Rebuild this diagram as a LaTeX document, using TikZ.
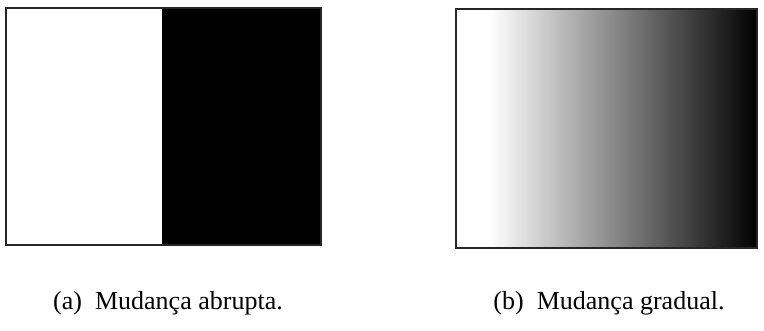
\documentclass[tikz,border=0pt]{standalone}
\usepackage{fontspec}
\setmainfont{Liberation Serif}
\newfontfamily\capfont{Liberation Serif}
\tikzset{
  frame/.style={draw=black!85, line width=1.6pt},
  caption/.style={font=\capfont\fontsize{26}{31}\selectfont, inner sep=0pt, anchor=base}
}
\begin{document}
\begin{tikzpicture}[x=1pt,y=-1pt]
  \useasboundingbox (0,0) rectangle (764,331);
  % (a) abrupt change: white half, black half
  \fill[white] (6,8) rectangle (162,245);
  \fill[black] (162,8) rectangle (321,245);
  \draw[frame] (6,8) rectangle (321,245);
  % (b) gradual change: white margin, then a linear ramp to black
  \fill[white] (456,9) rectangle (490,248);
  \shade[left color=white, right color=black] (490,9) rectangle (757,248);
  \draw[frame] (456,9) rectangle (757,248);
  % captions
  \node[caption] (capa) at (168,310) {(a)\hspace{0.5em}Mudança abrupta.};
  \node[caption] (capb) at (609,310) {(b)\hspace{0.5em}Mudança gradual.};
\end{tikzpicture}
\end{document}
